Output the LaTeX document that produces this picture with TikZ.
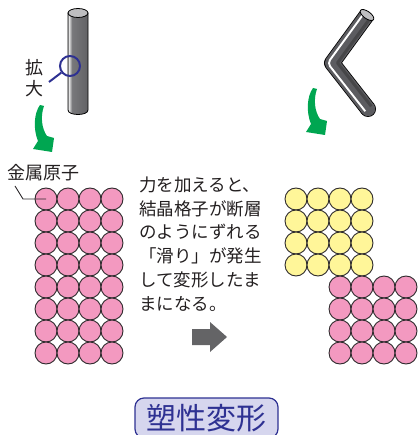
\documentclass[tikz,border=0pt]{standalone}
\usepackage{fontspec}
\newfontfamily\jp{Noto Sans CJK JP}

\definecolor{atompink}{RGB}{243,153,192}
\definecolor{atomyellow}{RGB}{255,246,153}
\definecolor{atomline}{RGB}{45,42,44}
\definecolor{navy}{RGB}{46,49,146}
\definecolor{lav}{RGB}{214,214,238}
\definecolor{arrowgreen}{RGB}{0,166,81}
\definecolor{txt}{RGB}{35,31,32}
\definecolor{rodA}{RGB}{70,70,72}
\definecolor{rodB}{RGB}{98,98,101}
\definecolor{rodhi}{RGB}{235,235,235}
\definecolor{rodC}{RGB}{120,120,123}
\definecolor{rodbody}{RGB}{92,92,96}
\definecolor{rodcap}{RGB}{190,190,192}
\definecolor{pushgray}{RGB}{100,100,102}

% metal rod: dark edges with a narrow bright reflection
\pgfdeclarehorizontalshading{rodshade}{100bp}{%
  color(0bp)=(rodA); color(20bp)=(rodB); color(27bp)=(rodhi);
  color(35bp)=(rodC); color(75bp)=(rodB); color(100bp)=(rodA)}

\begin{document}
\begin{tikzpicture}[x=1pt,y=-1pt,
  atom/.style={circle, draw=atomline, line width=0.9pt, minimum size=22pt, inner sep=0pt},
  label/.style={inner sep=0pt, text=txt, font=\jp\fontsize{18}{18}\selectfont},
  para/.style={inner sep=0pt, align=left, text=txt, font=\jp\fontsize{17.5}{23.8}\selectfont},
  lens/.style={circle, draw=navy, line width=2pt, minimum size=20pt, inner sep=0pt},
  titlebox/.style={draw=navy, line width=1.2pt, fill=lav, rounded corners=9pt,
    minimum width=143pt, minimum height=40pt, inner sep=0pt, text=navy,
    font=\jp\fontsize{30}{30}\selectfont},
  curvearrow/.pic={
    \fill[arrowgreen] (-2,0) .. controls (-8,8) and (-9,24) .. (-4,36)
      -- (-9,44) -- (10,47) -- (12,33) -- (5,31)
      .. controls (0,24) and (-2,12) .. (2,1) -- cycle;}
]
\useasboundingbox (0,0) rectangle (419,435);
\clip (0,0) rectangle (419,435);

% ---- straight rod (before) ----
\shade[shading=rodshade, draw=black, line width=0.8pt]
  (68,13) -- (68,110) .. controls (68,116) and (88,116) .. (88,110) -- (88,13) -- cycle;
\draw[fill=rodcap, line width=0.8pt] (78,13) ellipse [x radius=10pt, y radius=4.5pt];

% magnifier marking the enlarged spot
\node[lens] (lens) at (70,66) {};
\coordinate (grip) at (49,82);
\draw[navy, line width=2pt] (grip) -- (lens);
\node[label] (kaku) at (34,67.5) {拡};
\node[label] (dai) at (34,89) {大};

% ---- bent rod (after) ----
\draw[black, line width=16pt, line join=round] (367,15) -- (332,63) -- (368,109);
\fill[black] (368,109) circle [radius=8pt];
\draw[rodbody, line width=14.4pt, line join=round] (367,15) -- (332,63) -- (368,109);
\fill[rodbody] (368,109) circle [radius=7.2pt];
\draw[rodA, line width=3pt, line join=round] (370.6,17.6) -- (337.5,62.9) -- (371.3,106.3);
\draw[white, line width=1.9pt, rounded corners=4pt] (364.2,13.0) -- (327.6,63.2) -- (365.3,111.3);
\draw[fill=rodcap, line width=0.8pt, rotate around={-35.6:(367,15)}]
  (367,15) ellipse [x radius=8pt, y radius=3.6pt];

% ---- green arrows ----
\pic at (42,105) {curvearrow};
\pic at (315,88) {curvearrow};

% ---- lattice before deformation ----
\foreach \r in {0,...,7}
  \foreach \c in {0,...,3}
    \node[atom, fill=atompink] (L\r\c) at ({46+22*\c},{199+22*\r}) {};

\node[label] (metal) at (43.5,173) {金属原子};
\coordinate (lead) at (15,186);
\coordinate (kink) at (23,199);
\draw[atomline, line width=0.9pt] (lead) -- (kink) -- (L00.center);

% ---- lattice after slip ----
\foreach \r in {0,...,3}
  \foreach \c in {0,...,3}
    \node[atom, fill=atomyellow] (Y\r\c) at ({296+22*\c},{199+22*\r}) {};
\foreach \r in {0,...,3}
  \foreach \c in {0,...,3}
    \node[atom, fill=atompink] (P\r\c) at ({340+22*\c},{287+22*\r}) {};

% ---- explanation ----
\node[para, anchor=north west] (explain) at (139,176.5)
  {力を加えると、\\結晶格子が断層\\のようにずれる\\「滑り」が発生\\して変形したま\\まになる。};

\fill[pushgray] (192,329) -- (210,329) -- (210,322) -- (227,337)
  -- (210,352) -- (210,345) -- (192,345) -- cycle;

% ---- title ----
\node[titlebox] (title) at (206.5,418) {塑性変形};
\end{tikzpicture}
\end{document}
